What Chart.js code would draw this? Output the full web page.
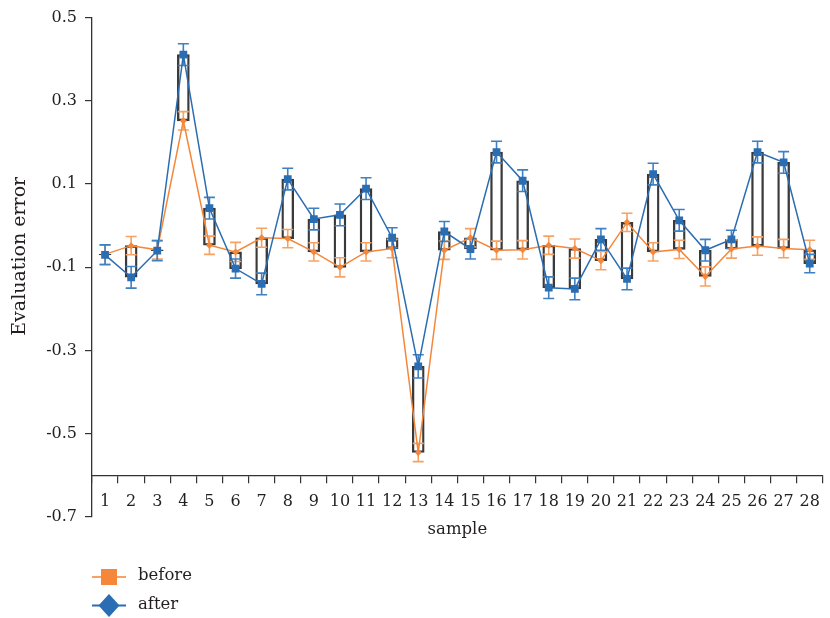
<!DOCTYPE html>
<html><head><meta charset="utf-8">
<script src="https://cdn.jsdelivr.net/npm/chart.js@4/dist/chart.umd.min.js"></script>
<style>html,body{margin:0;padding:0;background:#fff}#wrap{width:830px;height:618px}</style>
</head><body><div id="wrap"><canvas id="c" width="830" height="618"></canvas></div>
<script>
const samples = ['1','2','3','4','5','6','7','8','9','10','11','12','13','14','15','16','17','18','19','20','21','22','23','24','25','26','27','28'];
const before = [-0.069,-0.048,-0.058,0.252,-0.047,-0.063,-0.029,-0.031,-0.063,-0.100,-0.063,-0.055,-0.545,-0.059,-0.029,-0.059,-0.058,-0.047,-0.055,-0.084,0.008,-0.063,-0.057,-0.122,-0.056,-0.049,-0.055,-0.058];
const after = [-0.070,-0.124,-0.060,0.411,0.042,-0.103,-0.140,0.112,0.016,0.026,0.089,-0.029,-0.338,-0.014,-0.056,0.177,0.108,-0.149,-0.152,-0.033,-0.128,0.124,0.013,-0.059,-0.033,0.177,0.152,-0.091];
const errBefore = [0.023,0.022,0.022,0.022,0.022,0.023,0.023,0.022,0.022,0.023,0.022,0.022,0.022,0.022,0.022,0.022,0.022,0.022,0.023,0.022,0.022,0.022,0.022,0.023,0.022,0.022,0.022,0.023];
const errAfter = [0.024,0.026,0.024,0.026,0.026,0.023,0.026,0.026,0.026,0.026,0.026,0.024,0.028,0.024,0.024,0.026,0.026,0.026,0.026,0.026,0.026,0.026,0.026,0.026,0.022,0.026,0.026,0.022];
const yTicks = [-0.7,-0.5,-0.3,-0.1,0.1,0.3,0.5];
const yTickLabels = ['-0.7','-0.5','-0.3','-0.1','0.1','0.3','0.5'];
const xAxisAt = -0.6;
const yTitle = 'Evaluation error';
const xTitle = 'sample';

const ORANGE = '#F5873A', ORANGE_L = '#F7A263', BLUE = '#2A6DB3', BLUE_L = '#3F80C2';
const FONT = 'DejaVu Serif';
const TXT = '#231f20';

const errorBars = {
  id: 'errorBars',
  afterDatasetDraw(chart, args) {
    if (args.index !== 0) return;
    const ctx = chart.ctx, y = chart.scales.y;
    const sets = [[1, before, errBefore, ORANGE_L], [2, after, errAfter, BLUE_L]];
    ctx.save();
    ctx.lineWidth = 1.6;
    for (const [di, vals, errs, col] of sets) {
      const meta = chart.getDatasetMeta(di);
      ctx.strokeStyle = col;
      vals.forEach((v, i) => {
        const x = meta.data[i].x;
        const t = y.getPixelForValue(v + errs[i]);
        const b = y.getPixelForValue(v - errs[i]);
        ctx.beginPath();
        ctx.moveTo(x, t); ctx.lineTo(x, b);
        ctx.moveTo(x - 5.5, t); ctx.lineTo(x + 5.5, t);
        ctx.moveTo(x - 5.5, b); ctx.lineTo(x + 5.5, b);
        ctx.stroke();
      });
    }
    ctx.restore();
  }
};

const extras = {
  id: 'extras',
  afterDraw(chart) {
    const ctx = chart.ctx, ca = chart.chartArea;
    const axisY = chart.scales.y.getPixelForValue(xAxisAt);
    ctx.save();
    ctx.fillStyle = TXT;
    // y title
    ctx.save();
    ctx.translate(20.5, (ca.top + ca.bottom) / 2 - 11);
    ctx.rotate(-Math.PI / 2);
    ctx.font = '19px "' + FONT + '"';
    ctx.textAlign = 'center';
    ctx.textBaseline = 'middle';
    ctx.fillText(yTitle, 0, 0);
    ctx.restore();
    // x title
    ctx.font = '16.5px "' + FONT + '"';
    ctx.textAlign = 'center';
    ctx.textBaseline = 'middle';
    ctx.fillText(xTitle, (ca.left + ca.right) / 2, axisY + 54);
    // legend
    const items = [chart.data.datasets[1], chart.data.datasets[2]];
    const lx0 = ca.left, lx1 = ca.left + 34, cx = ca.left + 17;
    items.forEach((ds, k) => {
      const ly = ca.bottom + 60 + k * 28.5;
      ctx.strokeStyle = k === 0 ? ORANGE_L : BLUE;
      ctx.lineWidth = 2;
      ctx.beginPath(); ctx.moveTo(lx0, ly); ctx.lineTo(lx1, ly); ctx.stroke();
      ctx.fillStyle = ds.borderColor;
      if (k === 0) {
        ctx.fillRect(cx - 8, ly - 8, 16, 16);
      } else {
        ctx.beginPath();
        ctx.moveTo(cx, ly - 11.5); ctx.lineTo(cx + 10.5, ly); ctx.lineTo(cx, ly + 11.5); ctx.lineTo(cx - 10.5, ly);
        ctx.closePath(); ctx.fill();
      }
      ctx.fillStyle = TXT;
      ctx.textAlign = 'left';
      ctx.fillText(ds.label, ca.left + 46, ly - 1);
    });
    ctx.restore();
  }
};

new Chart(document.getElementById('c'), {
  type: 'bar',
  data: {
    labels: samples,
    datasets: [
      {
        type: 'bar', label: 'range',
        data: samples.map((_, i) => [before[i], after[i]]),
        backgroundColor: 'rgba(255,255,255,0)',
        borderColor: '#3a3a3a', borderWidth: 1.7, borderSkipped: false,
        barThickness: 12, order: 3
      },
      {
        type: 'line', label: 'before', data: before,
        borderColor: ORANGE, backgroundColor: ORANGE, borderWidth: 1.5,
        pointStyle: 'rectRot', pointRadius: 3.5, pointBorderWidth: 0, tension: 0, order: 2
      },
      {
        type: 'line', label: 'after', data: after,
        borderColor: BLUE, backgroundColor: BLUE, borderWidth: 1.5,
        pointStyle: 'rect', pointRadius: 5.5, pointBorderWidth: 0, tension: 0, order: 1
      }
    ]
  },
  options: {
    responsive: false, animation: false, devicePixelRatio: 1,
    layout: { padding: { top: 17, right: 3, bottom: 101, left: 0 } },
    plugins: { legend: { display: false }, tooltip: { enabled: false } },
    scales: {
      x: {
        type: 'category', position: { y: xAxisAt }, offset: true,
        grid: { display: true, offset: true, drawOnChartArea: false, drawTicks: true, tickLength: 7, color: '#333', lineWidth: 1.2 },
        border: { display: true, color: '#333', width: 1.3 },
        ticks: { font: { family: FONT, size: 16 }, color: TXT, padding: 10, maxRotation: 0, autoSkip: false },
        afterFit: s => { s.height = 0; }
      },
      y: {
        type: 'linear', min: -0.7, max: 0.5,
        afterBuildTicks: s => { s.ticks = yTicks.map(v => ({ value: v })); },
        grid: { display: true, drawOnChartArea: false, drawTicks: true, tickLength: 7, color: '#333', lineWidth: 1.2 },
        border: { display: true, color: '#333', width: 1.3 },
        ticks: { font: { family: FONT, size: 16 }, color: TXT, padding: 8, callback: (v, i) => yTickLabels[i] },
        title: { display: false },
        afterFit: s => { s.width = 92; }
      }
    }
  },
  plugins: [errorBars, extras]
});
</script>
</body></html>
